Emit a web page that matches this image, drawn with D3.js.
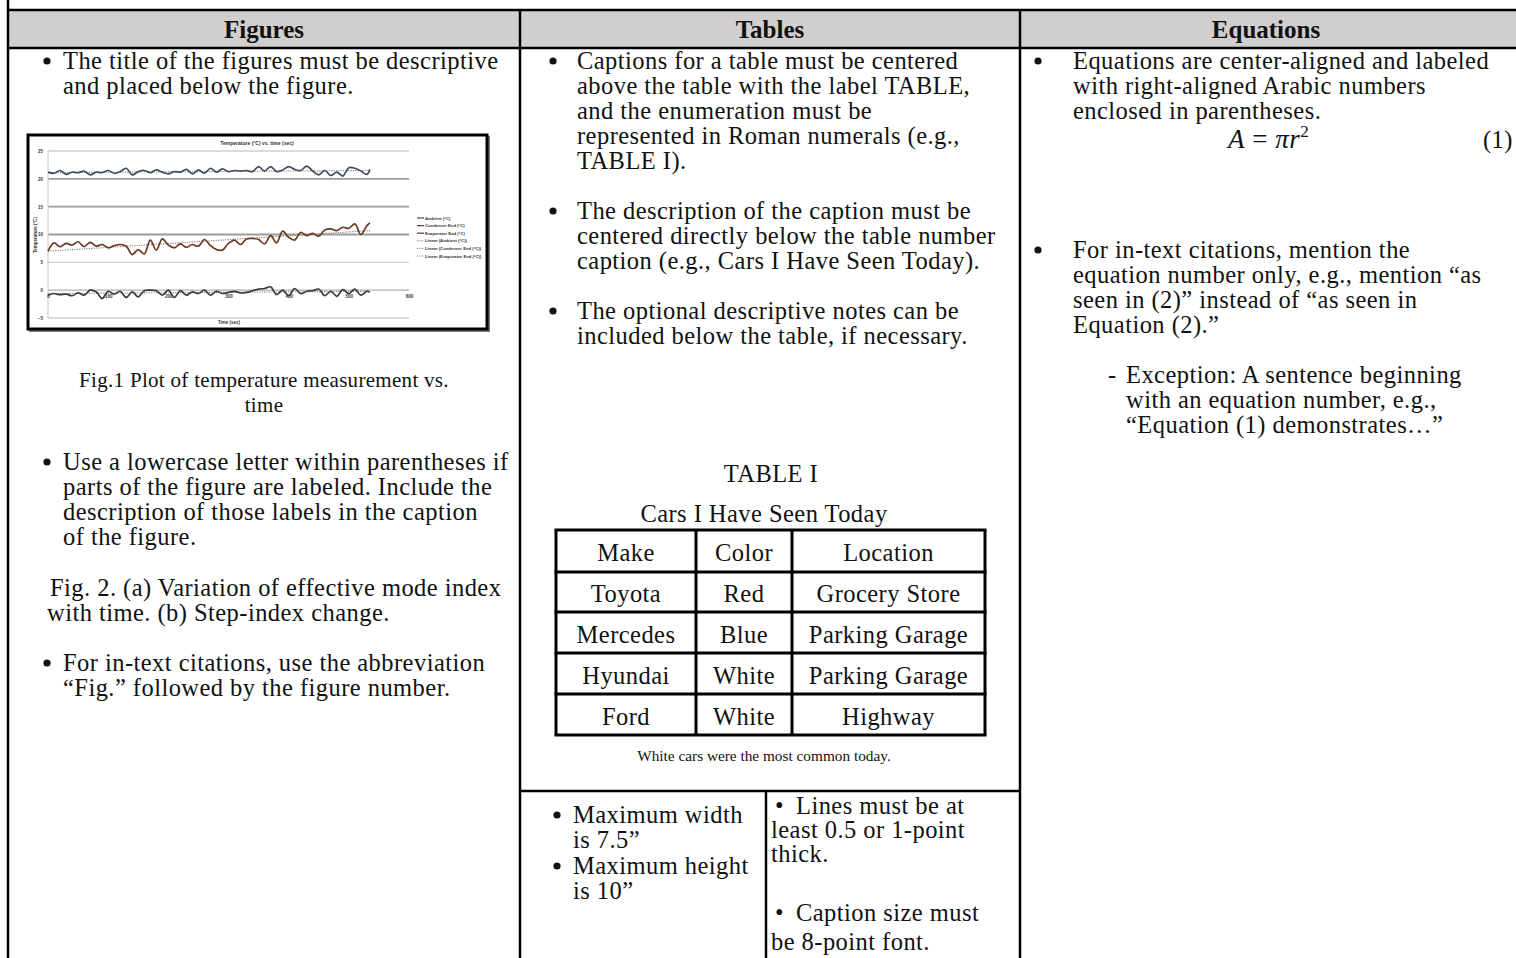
<!DOCTYPE html>
<html>
<head>
<meta charset="utf-8">
<script src="https://cdn.jsdelivr.net/npm/d3@7"></script>
<style>
  html, body { margin: 0; padding: 0; background: #fff; }
  svg { display: block; }
  .body { font-family: 'Liberation Serif', 'Times New Roman', serif; font-size: 24.5px; letter-spacing: 0.45px; fill: #111; }
  .hdr { font-family: 'Liberation Serif', 'Times New Roman', serif; font-size: 25px; font-weight: bold; fill: #111; }
  .ch { font-family: 'Liberation Sans', Arial, sans-serif; fill: #333; }
</style>
</head>
<body>
<script>
// ---------------- data ----------------
const headers = ["Figures", "Tables", "Equations"];

// embedded plot: temperature vs time
const times = [0,10,20,30,40,50,60,70,80,90,100,110,120,130,140,150,160,170,180,190,200,210,220,230,240,250,260,270,280,290,300,310,320,330,340,350,360,370,380,390,400,410,420,430,440,450,460,470,480,490,500,510,520,530,535];
const ambient = [21.2,21.0,21.5,20.8,21.2,21.1,21.4,20.7,21.2,21.1,21.5,21.0,21.3,21.9,20.7,21.3,21.5,21.1,21.6,21.2,20.9,21.3,21.2,21.7,20.9,21.6,21.0,21.9,21.2,21.8,21.3,21.5,21.4,21.5,21.3,22.2,21.4,22.2,21.3,21.6,22.2,21.7,21.5,22.3,21.4,20.7,21.5,20.6,21.2,20.5,22.0,21.9,21.4,20.8,21.7];
const condenser = [7.0,8.5,7.8,8.4,8.1,8.7,7.8,8.6,7.9,8.2,7.6,8.0,8.2,7.9,6.4,7.3,6.5,9.0,7.2,9.2,8.1,7.6,8.3,7.7,8.2,7.9,9.1,8.0,7.3,7.2,8.4,9.0,8.2,9.2,9.3,9.1,8.3,9.8,8.5,10.6,9.5,9.0,10.4,9.8,10.2,9.7,10.8,11.0,10.7,11.3,11.1,11.9,10.0,11.6,12.1];
const evaporator = [-0.9,-0.6,-0.8,-0.7,-1.0,-0.5,-0.9,0.0,-0.3,-1.5,-0.2,-0.7,-0.2,-1.3,-0.3,-1.2,-0.1,0.0,-0.1,-0.9,0.0,-1.3,-0.1,-0.9,-0.3,-0.6,0.0,-0.9,-0.2,-0.6,-0.4,-0.2,-0.5,-0.4,-0.1,0.2,0.3,0.6,-0.8,0.0,-1.0,0.3,-0.6,-0.2,-0.1,0.2,-1.0,-0.2,-1.1,0.1,-0.6,0.2,-0.9,-0.2,-0.4];
const trendTimes = [0, 535];
const trendAmbient = [21.1, 21.5];
const trendCondenser = [7.0, 10.7];
const trendEvaporator = [-0.6, -0.2];
const xTicks = [0,100,200,300,400,500,600];
const yTicks = [-5,0,5,10,15,20,25];
const legendLabels = ["Ambient (°C)","Condenser End (°C)","Evaporator End (°C)","Linear (Ambient (°C))","Linear (Condenser End (°C))","Linear (Evaporator End (°C))"];
const chartTitle = "Temperature (°C) vs. time (sec)";
const xLabel = "Time (sec)";
const yLabel = "Temperature (°C)";

// text content
const figBullet1 = ["The title of the figures must be descriptive","and placed below the figure."];
const figCaption = ["Fig.1 Plot of temperature measurement vs.","time"];
const figBullet2 = ["Use a lowercase letter within parentheses if","parts of the figure are labeled. Include the","description of those labels in the caption","of the figure."];
const fig2Caption = ["Fig. 2. (a) Variation of effective mode index","with time. (b) Step-index change."];
const figBullet3 = ["For in-text citations, use the abbreviation","“Fig.” followed by the figure number."];

const tabBullet1 = ["Captions for a table must be centered","above the table with the label TABLE,","and the enumeration must be","represented in Roman numerals (e.g.,","TABLE I)."];
const tabBullet2 = ["The description of the caption must be","centered directly below the table number","caption (e.g., Cars I Have Seen Today)."];
const tabBullet3 = ["The optional descriptive notes can be","included below the table, if necessary."];
const tableLabel = "TABLE I";
const tableTitle = "Cars I Have Seen Today";
const tableHeader = ["Make","Color","Location"];
const tableRows = [["Toyota","Red","Grocery Store"],["Mercedes","Blue","Parking Garage"],["Hyundai","White","Parking Garage"],["Ford","White","Highway"]];
const tableNote = "White cars were the most common today.";
const limitsLeft = [["Maximum width","is 7.5”"],["Maximum height","is 10”"]];
const limitsRight = [["Lines must be at","least 0.5 or 1-point","thick."],["Caption size must","be 8-point font."]];

const eqBullet1 = ["Equations are center-aligned and labeled","with right-aligned Arabic numbers","enclosed in parentheses."];
const eqBullet2 = ["For in-text citations, mention the","equation number only, e.g., mention “as","seen in (2)” instead of “as seen in","Equation (2).”"];
const eqSub = ["Exception: A sentence beginning","with an equation number, e.g.,","“Equation (1) demonstrates…”"];

// ---------------- layout ----------------
const W = 1516, H = 958;
const svg = d3.select("body").append("svg").attr("width", W).attr("height", H);
svg.append("rect").attr("width", W).attr("height", H).attr("fill", "#fff");

const colX = [8, 520, 1020, W];
const hdrTop = 10, hdrBot = 48;
const PITCH = 25;

// header band
svg.append("rect").attr("x", colX[0]).attr("y", hdrTop).attr("width", W - colX[0]).attr("height", hdrBot - hdrTop).attr("fill", "#d0cecf");
svg.selectAll("text.hdr").data(headers).join("text").attr("class", "hdr")
  .attr("x", (d, i) => (colX[i] + colX[i + 1]) / 2 + (i === 2 ? -2 : 0)).attr("y", 38)
  .attr("text-anchor", "middle").text(d => d);

const frame = svg.append("g").attr("stroke", "#000").attr("stroke-width", 2.5).attr("fill", "none");
frame.append("line").attr("x1", colX[0]).attr("x2", W).attr("y1", hdrTop).attr("y2", hdrTop);
frame.append("line").attr("x1", colX[0]).attr("x2", W).attr("y1", hdrBot).attr("y2", hdrBot);
[colX[0], colX[1], colX[2]].forEach(x => frame.append("line").attr("x1", x).attr("x2", x).attr("y1", x === colX[0] ? 0 : hdrTop).attr("y2", H));

function block(lines, x, y0, pitch, anchor) {
  const g = svg.append("g");
  g.selectAll("text").data(lines).join("text").attr("class", "body")
    .attr("x", x).attr("y", (d, i) => y0 + i * pitch)
    .attr("text-anchor", anchor || "start").text(d => d);
  return g;
}
function bullet(cx, y) {
  svg.append("circle").attr("cx", cx).attr("cy", y - 8).attr("r", 3.6).attr("fill", "#111");
}

// ---------- Figures column ----------
bullet(47, 69); block(figBullet1, 63, 69, PITCH);

// embedded chart picture
const box = {x: 28, y: 135, w: 459, h: 194};
svg.append("rect").attr("x", box.x + 2).attr("y", box.y + 2).attr("width", box.w).attr("height", box.h).attr("fill", "none").attr("stroke", "#777").attr("stroke-width", 2);
svg.append("rect").attr("x", box.x).attr("y", box.y).attr("width", box.w).attr("height", box.h).attr("fill", "#fff").attr("stroke", "#000").attr("stroke-width", 3);

const xs = d3.scaleLinear().domain([0, 600]).range([48, 409]);
const ys = d3.scaleLinear().domain([-5, 25]).range([318, 151]);
const cg = svg.append("g");
cg.selectAll("line.grid").data(yTicks).join("line").attr("class", "grid")
  .attr("x1", xs(0)).attr("x2", xs(600)).attr("y1", d => ys(d)).attr("y2", d => ys(d))
  .attr("stroke", d => (d >= 10 && d <= 20) ? "#9c9c9c" : (d === 0 ? "#b0b0b0" : "#cfcfcf"))
  .attr("stroke-width", d => (d >= 10 && d <= 20) ? 1.8 : 1.3);
cg.append("line").attr("x1", xs(0)).attr("x2", xs(0)).attr("y1", ys(25)).attr("y2", ys(-5)).attr("stroke", "#c8c8c8").attr("stroke-width", 1);

const yAxis = cg.append("g").attr("transform", `translate(${xs(0)},0)`)
  .call(d3.axisLeft(ys).tickValues(yTicks).tickSize(0).tickPadding(5));
yAxis.select(".domain").remove();
yAxis.selectAll("text").attr("class", "ch").style("font-size", "4.5px").style("font-weight", "bold");
const xAxis = cg.append("g").attr("transform", `translate(0,${ys(0)})`)
  .call(d3.axisBottom(xs).tickValues(xTicks).tickSize(0).tickPadding(5));
xAxis.select(".domain").remove();
xAxis.selectAll("text").attr("class", "ch").style("font-size", "4.5px").style("font-weight", "bold");

cg.append("text").attr("class", "ch").attr("x", 257).attr("y", 145).attr("text-anchor", "middle")
  .style("font-size", "5px").style("font-weight", "bold").text(chartTitle);
cg.append("text").attr("class", "ch").attr("x", 229).attr("y", 324).attr("text-anchor", "middle")
  .style("font-size", "4.5px").style("font-weight", "bold").text(xLabel);
cg.append("text").attr("class", "ch").attr("transform", "translate(37,235) rotate(-90)").attr("text-anchor", "middle")
  .style("font-size", "4.5px").style("font-weight", "bold").text(yLabel);

const series = [
  {vals: ambient, color: "#3f4d5e"},
  {vals: condenser, color: "#6a3a22"},
  {vals: evaporator, color: "#3c3c3c"}
];
const trends = [trendAmbient, trendCondenser, trendEvaporator];
const lineGen = d3.line().x((d, i) => xs(times[i])).y(d => ys(d)).curve(d3.curveCatmullRom);
const trendGen = d3.line().x((d, i) => xs(trendTimes[i])).y(d => ys(d));
cg.selectAll("path.trend").data(trends).join("path").attr("class", "trend")
  .attr("d", d => trendGen(d)).attr("fill", "none").attr("stroke", "#8a7f78").attr("stroke-width", 1.1).attr("stroke-dasharray", "1.2,1.2");
cg.selectAll("path.ser").data(series).join("path").attr("class", "ser")
  .attr("d", d => lineGen(d.vals)).attr("fill", "none").attr("stroke", d => d.color).attr("stroke-width", 1.7).attr("stroke-linejoin", "round");

const lg = cg.append("g");
const legendColors = ["#3f4d5e", "#6a3a22", "#3c3c3c", "#8a7f78", "#8a7f78", "#8a7f78"];
lg.selectAll("line").data(legendLabels).join("line")
  .attr("x1", 417).attr("x2", 424).attr("y1", (d, i) => 218 + i * 7.6).attr("y2", (d, i) => 218 + i * 7.6)
  .attr("stroke", (d, i) => legendColors[i]).attr("stroke-width", (d, i) => i < 3 ? 1.2 : 1)
  .attr("stroke-dasharray", (d, i) => i < 3 ? null : "1,0.8");
lg.selectAll("text").data(legendLabels).join("text").attr("class", "ch")
  .attr("x", 425).attr("y", (d, i) => 219.6 + i * 7.6).style("font-size", "4.2px").style("font-weight", "bold").text(d => d);

block(figCaption, 264, 387, PITCH, "middle").selectAll("text").style("font-size", "21px").style("letter-spacing", "0.3px");
bullet(47, 470); block(figBullet2, 63, 470, PITCH);
block([fig2Caption[0]], 50, 596, PITCH);
block([fig2Caption[1]], 47, 621, PITCH);
bullet(47, 671); block(figBullet3, 63, 671, PITCH);

// ---------- Tables column ----------
bullet(553, 69); block(tabBullet1, 577, 69, PITCH);
bullet(553, 219); block(tabBullet2, 577, 219, PITCH);
bullet(553, 319); block(tabBullet3, 577, 319, PITCH);

block([tableLabel], 771, 482, PITCH, "middle");
block([tableTitle], 764, 522, PITCH, "middle");

const tColX = [556, 696, 792, 985];
const tRowY = [530, 572, 612, 653, 694, 735];
const allRows = [tableHeader].concat(tableRows);
const tg = svg.append("g");
tg.selectAll("g.row").data(allRows).join("g").attr("class", "row").each(function (row, r) {
  d3.select(this).selectAll("text").data(row).join("text").attr("class", "body")
    .attr("x", (d, c) => (tColX[c] + tColX[c + 1]) / 2).attr("y", (tRowY[r] + tRowY[r + 1]) / 2 + 10)
    .attr("text-anchor", "middle").text(d => d);
});
const tl = tg.append("g").attr("stroke", "#000").attr("stroke-width", 3);
tRowY.forEach(y => tl.append("line").attr("x1", tColX[0] - 1.5).attr("x2", tColX[3] + 1.5).attr("y1", y).attr("y2", y));
tColX.forEach(x => tl.append("line").attr("x1", x).attr("x2", x).attr("y1", tRowY[0]).attr("y2", tRowY[5]));

svg.append("text").attr("class", "body").attr("x", 764).attr("y", 761).attr("text-anchor", "middle")
  .style("font-size", "15.3px").style("letter-spacing", "0px").text(tableNote);

// bottom sub-cells
const subTop = 791, subDiv = 766;
frame.append("line").attr("x1", colX[1]).attr("x2", colX[2]).attr("y1", subTop).attr("y2", subTop);
frame.append("line").attr("x1", subDiv).attr("x2", subDiv).attr("y1", subTop).attr("y2", H);

bullet(557, 823); block(limitsLeft[0], 573, 823, 25);
bullet(557, 874); block(limitsLeft[1], 573, 874, 25);

block(["•"], 775, 814, 24);
block([limitsRight[0][0]], 796, 814, 24);
block(limitsRight[0].slice(1), 771, 838, 24);
block(["•"], 775, 921, 28);
block([limitsRight[1][0]], 796, 921, 28);
block(limitsRight[1].slice(1), 771, 950, 28);

// ---------- Equations column ----------
bullet(1038, 69); block(eqBullet1, 1073, 69, PITCH);
const eq = svg.append("text").attr("class", "body").attr("x", 1228).attr("y", 148).style("font-size", "27px").style("letter-spacing", "0.5px");
eq.append("tspan").style("font-style", "italic").text("A");
eq.append("tspan").text(" = ");
eq.append("tspan").style("font-style", "italic").text("πr");
eq.append("tspan").attr("dy", -11).style("font-size", "17px").text("2");
svg.append("text").attr("class", "body").attr("x", 1483).attr("y", 148).text("(1)");

bullet(1038, 258); block(eqBullet2, 1073, 258, PITCH);
svg.append("text").attr("class", "body").attr("x", 1108).attr("y", 383).text("-");
block(eqSub, 1126, 383, PITCH);
</script>
</body>
</html>
